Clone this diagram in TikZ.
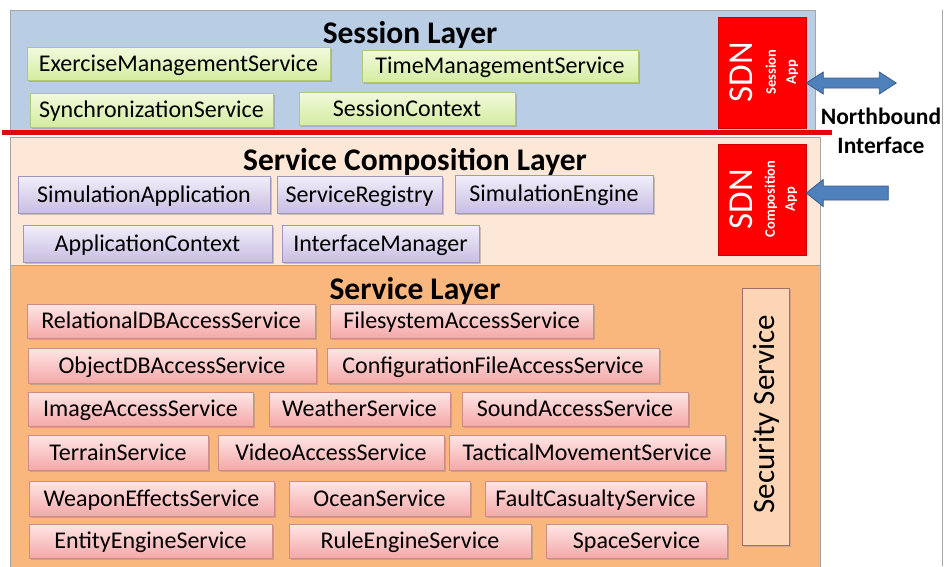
\documentclass[tikz,border=0pt]{standalone}
\usepackage{fontspec}
\setmainfont{Carlito}
\usetikzlibrary{shadows}
\definecolor{sessbg}{RGB}{185,205,229}
\definecolor{compbg}{RGB}{253,231,214}
\definecolor{servbg}{RGB}{249,182,125}
\definecolor{secbg}{RGB}{252,213,180}
\definecolor{laybd}{RGB}{165,165,165}
\definecolor{gtop}{RGB}{242,250,222}
\definecolor{gbot}{RGB}{212,236,160}
\definecolor{gbd}{RGB}{175,200,120}
\definecolor{ptop}{RGB}{242,238,250}
\definecolor{pbot}{RGB}{200,190,226}
\definecolor{pbd}{RGB}{160,150,190}
\definecolor{rtop}{RGB}{255,230,230}
\definecolor{rbot}{RGB}{244,168,168}
\definecolor{rbd}{RGB}{205,140,135}
\definecolor{arfill}{RGB}{79,129,189}
\definecolor{arbd}{RGB}{56,93,138}
\definecolor{redline}{RGB}{225,10,10}
\newcommand\mybox[7]{%
  \node[#2, minimum width={(#5-#3)*1pt}, minimum height={(#6-#4)*1pt}] (#1) at ({(#3+#5)/2},{(#4+#6)/2}) {#7};}
\tikzset{
  layer/.style={draw=laybd, line width=0.8pt, inner sep=0pt},
  svcbox/.style={draw, line width=0.7pt, inner sep=0pt, font=\fontsize{24}{26}\selectfont,
     text height=16pt, text depth=1pt,
     drop shadow={shadow xshift=1.5pt, shadow yshift=-1.8pt, fill=black!45, opacity=0.45}},
  greenbox/.style={svcbox, draw=gbd, top color=gtop, bottom color=gbot},
  purplebox/.style={svcbox, draw=pbd, top color=ptop, bottom color=pbot},
  pinkbox/.style={svcbox, draw=rbd, top color=rtop, bottom color=rbot},
  sdnbox/.style={fill=red, draw=red!80!black, line width=0.5pt, inner sep=0pt},
  sdnbig/.style={text=white, rotate=90, font=\fontsize{35}{36}\selectfont, inner sep=0pt},
  sdnsmall/.style={text=white, rotate=90, align=center, font=\bfseries\fontsize{14.5}{20}\selectfont, inner sep=0pt},
  title/.style={font=\bfseries\fontsize{31.5}{32}\selectfont, inner sep=0pt},
  nbtext/.style={font=\bfseries\fontsize{23.5}{29}\selectfont, align=center, inner sep=0pt},
  bluearrow/.style={fill=arfill, draw=arbd, line width=0.8pt, line join=miter},
}
\begin{document}
\begin{tikzpicture}[x=1pt,y=-1pt]
\useasboundingbox[fill=white] (0,0) rectangle (946,566);
% right border line
\draw[black!35, line width=1pt] (942,10) coordinate (rb1) -- (942,566) coordinate (rb2);
% layers
\mybox{sesslayer}{layer, fill=sessbg}{10}{10}{815}{131}{}
\mybox{complayer}{layer, fill=compbg}{10}{137}{820}{265}{}
\mybox{servlayer}{layer, fill=servbg}{10}{265}{820}{567}{}
% red line
\coordinate (rl1) at (2,132.5);
\coordinate (rl2) at (832,132.5);
\draw[redline, line width=4.5pt] (rl1) -- (rl2);
% titles
\node[title] (t1) at (410,35) {Session Layer};
\node[title] (t2) at (415,162) {Service Composition Layer};
\node[title] (t3) at (415,291) {Service Layer};
% session layer boxes
\mybox{ems}{greenbox}{27}{47}{330}{80}{ExerciseManagementService}
\mybox{tms}{greenbox}{362}{50}{638}{82}{TimeManagementService}
\mybox{syn}{greenbox}{30}{93}{273}{127}{SynchronizationService}
\mybox{sc}{greenbox}{299}{92}{515}{125}{SessionContext}
% composition layer boxes
\mybox{sa}{purplebox}{18}{176}{270}{213}{SimulationApplication}
\mybox{sr}{purplebox}{277}{176}{442}{213}{ServiceRegistry}
\mybox{se}{purplebox}{455}{175}{653}{213}{SimulationEngine}
\mybox{ac}{purplebox}{23}{225}{272}{262}{ApplicationContext}
\mybox{im}{purplebox}{282}{225}{479}{262}{InterfaceManager}
% service layer boxes
\mybox{rdb}{pinkbox}{27}{304}{315}{338}{RelationalDBAccessService}
\mybox{fsa}{pinkbox}{330}{304}{593}{338}{FilesystemAccessService}
\mybox{odb}{pinkbox}{28}{348}{316}{383}{ObjectDBAccessService}
\mybox{cfa}{pinkbox}{327}{348}{659}{383}{ConfigurationFileAccessService}
\mybox{ias}{pinkbox}{28}{392}{253}{426}{ImageAccessService}
\mybox{ws}{pinkbox}{269}{392}{450}{426}{WeatherService}
\mybox{sas}{pinkbox}{462}{392}{688}{426}{SoundAccessService}
\mybox{ts}{pinkbox}{28}{435}{208}{470}{TerrainService}
\mybox{vas}{pinkbox}{218}{435}{444}{470}{VideoAccessService}
\mybox{tm}{pinkbox}{449}{435}{725}{470}{TacticalMovementService}
\mybox{wes}{pinkbox}{29}{481}{274}{516}{WeaponEffectsService}
\mybox{os}{pinkbox}{289}{481}{470}{516}{OceanService}
\mybox{fcs}{pinkbox}{485}{481}{706}{516}{FaultCasualtyService}
\mybox{ees}{pinkbox}{29}{524}{272}{558}{EntityEngineService}
\mybox{res}{pinkbox}{289}{524}{531}{558}{RuleEngineService}
\mybox{ss}{pinkbox}{546}{524}{727}{558}{SpaceService}
% security service
\mybox{sec}{draw=rbd!80!black, line width=0.6pt, fill=secbg, inner sep=0pt, drop shadow={shadow xshift=1.5pt, shadow yshift=-1.8pt, fill=black!45, opacity=0.4}}{742}{288}{789}{545}{}
\node[rotate=90, font=\fontsize{31}{32}\selectfont, inner sep=0pt] (sectxt) at (766,414) {Security Service};
% SDN boxes
\mybox{sdn1}{sdnbox}{718}{17}{806}{128}{}
\node[sdnbig] (sdn1a) at (741,72) {SDN};
\node[sdnsmall] (sdn1b) at (782,72) {Session\\App};
\mybox{sdn2}{sdnbox}{718}{144}{806}{255}{}
\node[sdnbig] (sdn2a) at (741,199) {SDN};
\node[sdnsmall] (sdn2b) at (781,199) {Composition\\App};
% arrows
\coordinate (a1) at (sdn1.east |- 0,83);
\draw[bluearrow] (a1) -- ++(17,-11) -- ++(0,6) -- ++(56,0) -- ++(0,-6) -- ++(17,11)
   -- ++(-17,11) -- ++(0,-6) -- ++(-56,0) -- ++(0,6) -- cycle;
\coordinate (a2) at (sdn2.east |- 0,193);
\draw[bluearrow] (a2) -- ++(17,-13.5) -- ++(0,6.5) -- ++(65,0) -- ++(0,14) -- ++(-65,0) -- ++(0,6.5) -- cycle;
% northbound interface
\node[nbtext] (nb) at (881,131) {Northbound\\Interface};
\end{tikzpicture}
\end{document}
